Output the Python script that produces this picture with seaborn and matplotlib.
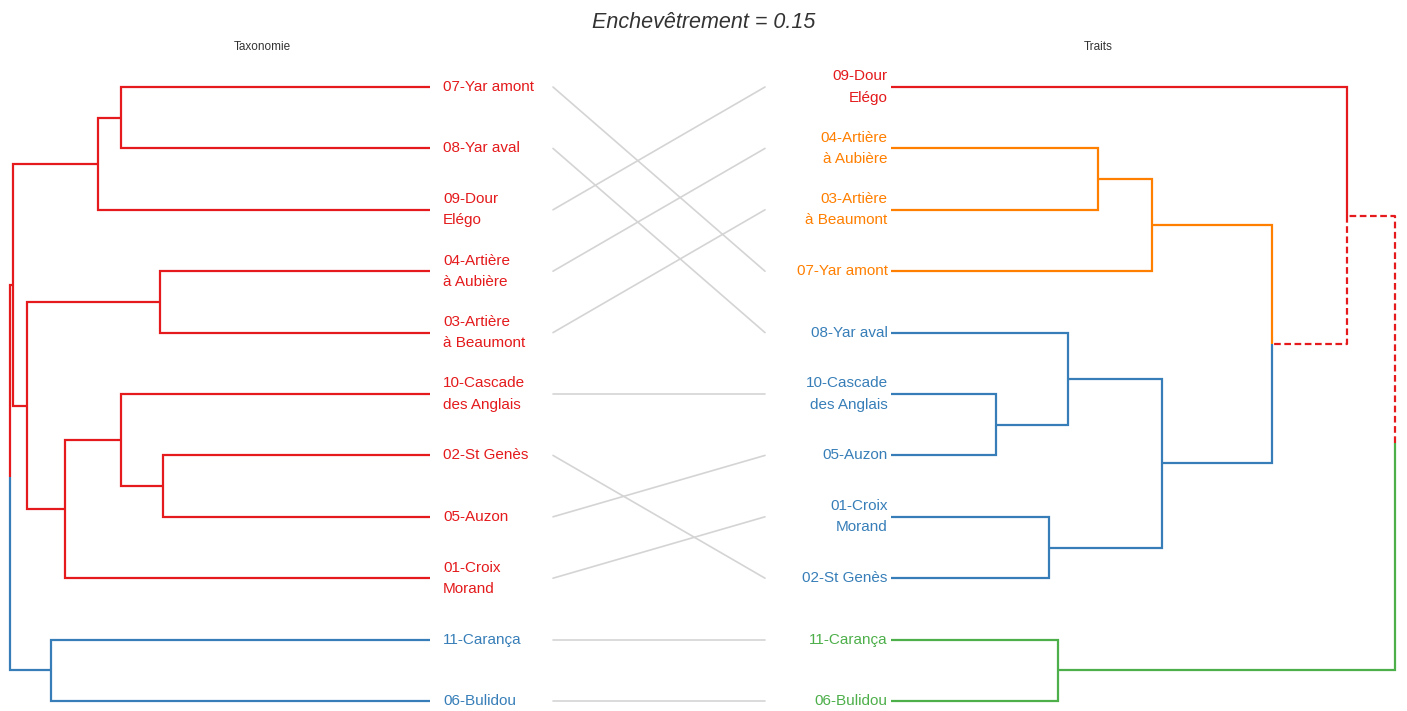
"""Tanglegram: taxonomy-based vs trait-based clustering of the stations."""

import matplotlib.pyplot as plt
import pandas as pd
import seaborn as sns

RED = "#E41A1C"
BLUE = "#377EB8"
GREEN = "#4DAF4A"
ORANGE = "#FF7F00"

LABELS = {
    "01": "01-Croix\nMorand",
    "02": "02-St Genès",
    "03": "03-Artière\nà Beaumont",
    "04": "04-Artière\nà Aubière",
    "05": "05-Auzon",
    "06": "06-Bulidou",
    "07": "07-Yar amont",
    "08": "08-Yar aval",
    "09": "09-Dour\nElégo",
    "10": "10-Cascade\ndes Anglais",
    "11": "11-Carança",
}

# leaf order, top to bottom
left_order = ["07", "08", "09", "04", "03", "10", "02", "05", "01", "11", "06"]
right_order = ["09", "04", "03", "07", "08", "10", "05", "01", "02", "11", "06"]

# merges: (node, child a, child b, height relative to root)
left_merges = [
    ("a", "07", "08", 0.736),
    ("b", "a", "09", 0.790),
    ("c", "04", "03", 0.643),
    ("d", "02", "05", 0.636),
    ("e", "10", "d", 0.736),
    ("f", "e", "01", 0.869),
    ("g", "c", "f", 0.960),
    ("h", "b", "g", 0.992),
    ("i", "11", "06", 0.902),
    ("root", "h", "i", 1.0),
]
right_merges = [
    ("a", "04", "03", 0.410),
    ("b", "a", "07", 0.518),
    ("c", "10", "05", 0.208),
    ("d", "08", "c", 0.351),
    ("e", "01", "02", 0.313),
    ("f", "d", "e", 0.538),
    ("g", "b", "f", 0.756),
    ("h", "09", "g", 0.905),
    ("i", "11", "06", 0.332),
    ("root", "h", "i", 1.0),
]

left_colors = {k: RED for k in LABELS}
left_colors.update({"11": BLUE, "06": BLUE})
right_colors = {"09": RED, "04": ORANGE, "03": ORANGE, "07": ORANGE,
                "08": BLUE, "10": BLUE, "05": BLUE, "01": BLUE, "02": BLUE,
                "11": GREEN, "06": GREEN}
# edges that differ between the two trees
right_distinct = ["g", "h"]


def layout(order, merges, leaf_colors):
    pos = {leaf: i + 1 for i, leaf in enumerate(order)}
    height = {leaf: 0.0 for leaf in order}
    color = dict(leaf_colors)
    edges = []
    for node, a, b, h in merges:
        pos[node] = (pos[a] + pos[b]) / 2
        height[node] = h
        color[node] = color[a] if color[a] == color[b] else RED
        edges += [(node, a), (node, b)]
    return pos, height, color, edges


def draw_tree(ax, order, merges, leaf_colors, distinct, side):
    pos, height, color, edges = layout(order, merges, leaf_colors)
    for parent, child in edges:
        ls = (0, (3, 1.6)) if child in distinct else "-"
        ax.plot([height[parent], height[parent], height[child]],
                [pos[parent], pos[child], pos[child]],
                color=color[child], lw=1.6, ls=ls, solid_capstyle="butt",
                solid_joinstyle="miter", clip_on=False)
    for leaf in order:
        if side == "left":
            ax.annotate(LABELS[leaf], xy=(0, pos[leaf]), xytext=(9.5, 0),
                        textcoords="offset points", ha="left", va="center",
                        color=leaf_colors[leaf], fontsize=11, linespacing=1.65)
        else:
            ax.annotate(LABELS[leaf], xy=(0, pos[leaf]), xytext=(-2.5, 0),
                        textcoords="offset points", ha="right", va="center",
                        multialignment="right", color=leaf_colors[leaf],
                        fontsize=11, linespacing=1.65)
    ax.set_ylim(len(order), 1)
    ax.set_axis_off()


sns.set_theme(style="white")
plt.rcParams["font.family"] = ["Liberation Sans", "DejaVu Sans"]

W, H = 1407, 711
fig = plt.figure(figsize=(W / 100, H / 100), dpi=100)
bottom = (H - 701) / H
height = (701 - 87) / H

ax_l = fig.add_axes([10 / W, bottom, 420 / W, height])
draw_tree(ax_l, left_order, left_merges, left_colors, [], "left")
ax_l.set_xlim(1.0, 0.0)

ax_r = fig.add_axes([891 / W, bottom, 504 / W, height])
draw_tree(ax_r, right_order, right_merges, right_colors, right_distinct, "right")
ax_r.set_xlim(0.0, 1.0)

# connecting lines between matching leaves
links = pd.DataFrame(
    [{"station": s, "side": 0, "pos": left_order.index(s) + 1} for s in left_order]
    + [{"station": s, "side": 1, "pos": right_order.index(s) + 1} for s in left_order]
)
ax_m = fig.add_axes([553 / W, bottom, 212 / W, height])
sns.lineplot(data=links, x="side", y="pos", units="station", estimator=None,
             color="#d4d4d4", lw=1.2, ax=ax_m, legend=False)
for line in ax_m.lines:
    line.set_clip_on(False)
ax_m.set_xlim(0, 1)
ax_m.set_ylim(len(left_order), 1)
ax_m.set_axis_off()

fig.text(704 / W, 1 - 22 / H, "Enchevêtrement = 0.15", ha="center", va="center",
         fontsize=15.5, style="italic", color="#333333")
fig.text(262 / W, 1 - 47 / H, "Taxonomie", ha="center", va="center",
         fontsize=8.5, color="#333333")
fig.text(1098 / W, 1 - 47 / H, "Traits", ha="center", va="center",
         fontsize=8.5, color="#333333")

fig.savefig("out.png", dpi=100)
